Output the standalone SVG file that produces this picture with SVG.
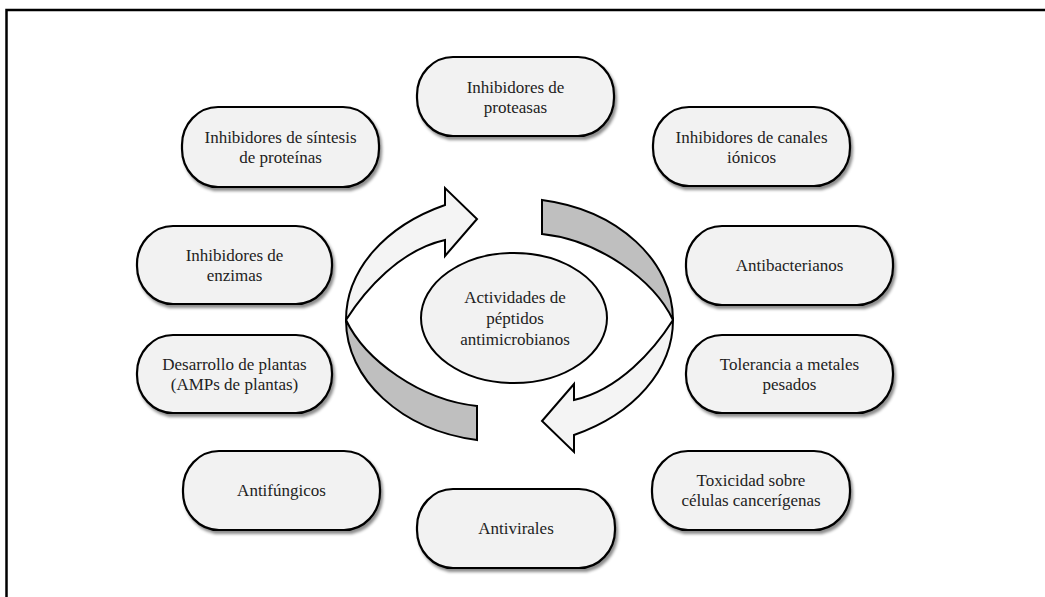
<svg xmlns="http://www.w3.org/2000/svg" width="1045" height="597" viewBox="0 0 1045 597">
<defs>
<filter id="sh" x="-10%" y="-10%" width="130%" height="140%">
<feDropShadow dx="2" dy="3" stdDeviation="1.8" flood-color="#000" flood-opacity="0.45"/>
</filter>
<style>
.box{fill:#f2f2f2;stroke:#000;stroke-width:2.2;filter:url(#sh)}
.t{font-family:"Liberation Serif","Times New Roman",serif;font-size:17px;fill:#222;text-anchor:middle}
.wa{fill:#f4f4f4;stroke:#000;stroke-width:2;stroke-linejoin:miter}
.ga{fill:#bfbfbf;stroke:#000;stroke-width:2;stroke-linejoin:miter}
</style>
</defs>
<rect x="0" y="0" width="1045" height="597" fill="#fff"/>
<rect x="6.5" y="10" width="1100" height="700" fill="none" stroke="#000" stroke-width="2.5"/>

<g id="connectors">
<g id="arrow-left">
<path class="ga" d="M346 320 C346 379 401 430 477 440 L477 406 C420 400 365 360 346 320 Z"/>
<path class="wa" d="M346 320 C346 270 385 226 445 205 L445 188 L477 219 L445 256 L445 240 C400 250 365 290 346 320 Z"/>
</g>
<g id="arrow-right" transform="rotate(180 509.5 320)">
<path class="ga" d="M346 320 C346 379 401 430 477 440 L477 406 C420 400 365 360 346 320 Z"/>
<path class="wa" d="M346 320 C346 270 385 226 445 205 L445 188 L477 219 L445 256 L445 240 C400 250 365 290 346 320 Z"/>
</g>
</g>

<g id="center">
<ellipse cx="514" cy="318" rx="93" ry="65" fill="#f2f2f2" stroke="#000" stroke-width="2"/>
<text class="t" x="515" y="303">Actividades de</text>
<text class="t" x="515" y="324">péptidos</text>
<text class="t" x="515" y="345">antimicrobianos</text>
</g>

<g id="n-proteasas">
<rect class="box" x="417" y="57" width="197" height="79" rx="36" ry="38"/>
<text class="t" x="515.5" y="93">Inhibidores de</text>
<text class="t" x="515.5" y="113">proteasas</text>
</g>

<g id="n-sintesis">
<rect class="box" x="182" y="107" width="197" height="80" rx="36" ry="38"/>
<text class="t" x="280.5" y="143">Inhibidores de síntesis</text>
<text class="t" x="280.5" y="163">de proteínas</text>
</g>

<g id="n-canales">
<rect class="box" x="653" y="107" width="197" height="79" rx="36" ry="38"/>
<text class="t" x="751.5" y="143">Inhibidores de canales</text>
<text class="t" x="751.5" y="163">iónicos</text>
</g>

<g id="n-enzimas">
<rect class="box" x="137" y="226" width="195" height="78" rx="36" ry="38"/>
<text class="t" x="234.5" y="261">Inhibidores de</text>
<text class="t" x="234.5" y="281">enzimas</text>
</g>

<g id="n-antibacterianos">
<rect class="box" x="686" y="226" width="207" height="79" rx="36" ry="38"/>
<text class="t" x="789.5" y="271">Antibacterianos</text>
</g>

<g id="n-desarrollo">
<rect class="box" x="137" y="335" width="195" height="78" rx="36" ry="38"/>
<text class="t" x="234.5" y="370">Desarrollo de plantas</text>
<text class="t" x="234.5" y="390">(AMPs de plantas)</text>
</g>

<g id="n-tolerancia">
<rect class="box" x="686" y="335" width="207" height="78" rx="36" ry="38"/>
<text class="t" x="789.5" y="370">Tolerancia a metales</text>
<text class="t" x="789.5" y="390">pesados</text>
</g>

<g id="n-antifungicos">
<rect class="box" x="183" y="451" width="197" height="79" rx="36" ry="38"/>
<text class="t" x="281.5" y="496">Antifúngicos</text>
</g>

<g id="n-antivirales">
<rect class="box" x="417" y="489" width="198" height="79" rx="36" ry="38"/>
<text class="t" x="516" y="534">Antivirales</text>
</g>

<g id="n-toxicidad">
<rect class="box" x="652" y="451" width="198" height="79" rx="36" ry="38"/>
<text class="t" x="751" y="486">Toxicidad sobre</text>
<text class="t" x="751" y="506">células cancerígenas</text>
</g>
</svg>
